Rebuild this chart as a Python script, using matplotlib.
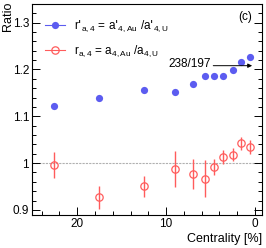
import matplotlib.pyplot as plt
from matplotlib.lines import Line2D
from matplotlib.ticker import MultipleLocator

plt.rcParams['font.family'] = ['Liberation Sans', 'DejaVu Sans']

# centrality bins (%)
cent = [22.6, 17.6, 12.5, 9.0, 7.0, 5.6, 4.6, 3.6, 2.5, 1.55, 0.53]
# r'_{a,4}
r_prime = [1.121, 1.138, 1.157, 1.152, 1.170, 1.187, 1.187, 1.187, 1.199, 1.215, 1.226]
# r_{a,4}
r_val = [0.996, 0.927, 0.950, 0.987, 0.977, 0.967, 0.991, 1.013, 1.018, 1.042, 1.035]
r_err = [0.028, 0.025, 0.023, 0.038, 0.032, 0.040, 0.017, 0.014, 0.014, 0.014, 0.015]

labels = [r"r$'_{\mathregular{a,4}}$ = a$'_{\mathregular{4,Au}}$ /a$'_{\mathregular{4,U}}$",
          r"r$_{\mathregular{a,4}}$ = a$_{\mathregular{4,Au}}$ /a$_{\mathregular{4,U}}$"]

ratio_ref = 238 / 197

blue = '#5c5cf0'
red = '#ff5c5c'

fig = plt.figure(figsize=(2.66, 2.48), dpi=100)
ax = fig.add_axes([0.120, 0.133, 0.865, 0.851])

ax.axhline(1.0, color='#b0b0b0', lw=0.8, ls=(0, (2, 1)), zorder=1)

ax.errorbar(cent, r_prime, fmt='o', color=blue, ms=5.2, mew=0, elinewidth=1)
ax.errorbar(cent, r_val, yerr=r_err, fmt='o', color=red, mfc='none', ms=5.3, mew=0.9,
            elinewidth=1)

ax.annotate('', xy=(0.0, ratio_ref), xytext=(5.0, ratio_ref),
            arrowprops=dict(arrowstyle='-|>', color='black', lw=0.7, mutation_scale=6))
ax.text(5.0, ratio_ref + 0.003, '238/197', ha='right', va='center', fontsize=8.5)
ax.text(0.955, 0.965, '(c)', transform=ax.transAxes, ha='right', va='top', fontsize=8.5)

ax.set_xlim(25.1, -0.8)
ax.set_ylim(0.889, 1.34)

ax.xaxis.set_major_locator(MultipleLocator(10))
ax.xaxis.set_minor_locator(MultipleLocator(2))
ax.yaxis.set_major_locator(MultipleLocator(0.1))
ax.yaxis.set_minor_locator(MultipleLocator(0.02))
ax.yaxis.set_major_formatter(plt.FuncFormatter(lambda v, p: f'{v:g}'))
ax.tick_params(which='both', direction='in', top=False, right=True, labelsize=8.5, pad=2)
ax.tick_params(which='major', length=6, width=0.7)
ax.tick_params(which='minor', length=3, width=0.7)
for s in ax.spines.values():
    s.set_linewidth(0.8)

fig.text(0.03, 0.995, 'Ratio', rotation=90, ha='center', va='top', fontsize=9)
fig.text(0.985, 0.035, 'Centrality [%]', ha='right', va='center', fontsize=9)

handles = [Line2D([], [], color=blue, marker='o', ms=5.2, mew=0, lw=0.8),
           Line2D([], [], color=red, marker='o', mfc='none', ms=5.3, mew=0.9, lw=0.8)]
ax.legend(handles, labels, loc='upper left', frameon=False, fontsize=8.5,
          handlelength=1.7, borderaxespad=0.3, labelspacing=0.8,
          bbox_to_anchor=(0.02, 0.97))

fig.savefig('out.png', dpi=100)
